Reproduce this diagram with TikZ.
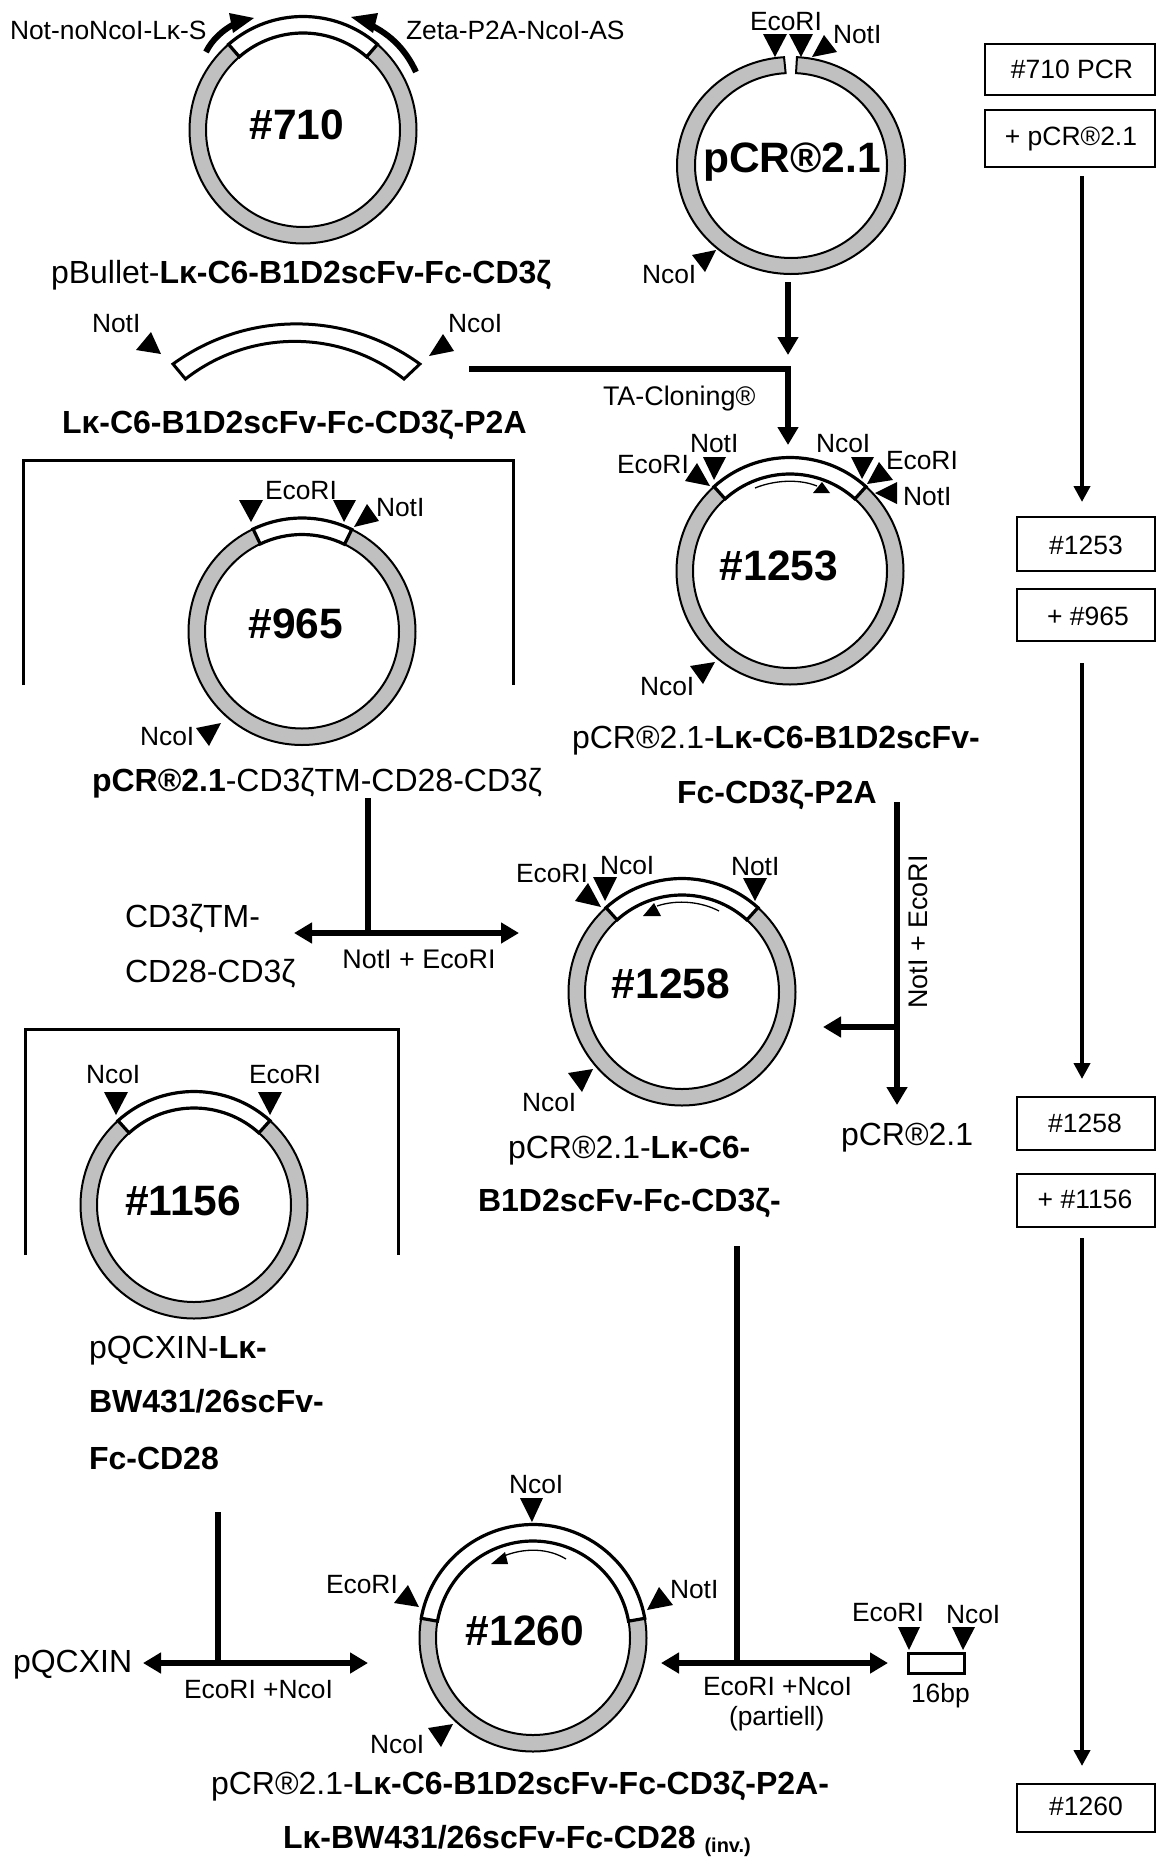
\documentclass[tikz,border=0pt]{standalone}
\usepackage{fontspec}
\setmainfont{Liberation Sans}
\usetikzlibrary{arrows.meta}
\definecolor{ring}{HTML}{C0C0C0}
\newcommand{\szS}{\fontsize{26.4}{30}\selectfont}
\newcommand{\szM}{\fontsize{26.9}{30}\selectfont}
\newcommand{\szBox}{\fontsize{26.5}{30}\selectfont}
\newcommand{\szC}{\fontsize{32}{36}\selectfont}
\newcommand{\szB}{\fontsize{42.5}{46}\selectfont\bfseries}
\tikzset{
  x=1pt,y=1pt,
  txt/.style={inner sep=0pt,outer sep=0pt,anchor=base west},
  ctxt/.style={inner sep=0pt,outer sep=0pt,anchor=base},
  site/.style={font=\szS},
  captxt/.style={font=\szC},
  midtxt/.style={font=\szM},
  bigtxt/.style={font=\szB},
  boxlab/.style={font=\szBox},
  stepbox/.style={draw=black,line width=2pt,fill=white},
  bracket/.style={draw=black,line width=3pt},
  flow/.style={draw=black,line width=5.5pt,-{Triangle[length=18pt,width=20pt]}},
  flowboth/.style={draw=black,line width=5.5pt,{Triangle[length=18pt,width=20pt]}-{Triangle[length=18pt,width=20pt]}},
  flowline/.style={draw=black,line width=5.5pt},
  sidearrow/.style={draw=black,line width=4pt,-{Triangle[length=16pt,width=16pt]}},
  thinarc/.style={draw=black,line width=1.3pt},
  primer/.style={draw=black,line width=6pt},
}
% name, cx, cy, start angle, end angle
\newcommand{\plasmid}[5]{%
  \begin{scope}[shift={(#2,-#3)}]
    \coordinate (#1) at (0,0);
    \draw[black,line width=2pt,fill=ring,even odd rule] (0,0) circle[radius=113.5pt] (0,0) circle[radius=97pt];
    \draw[black,line width=3.2pt,fill=white] (#4:113.5pt) arc[start angle=#4,end angle=#5,radius=113.5pt] -- (#5:97pt) arc[start angle=#5,end angle=#4,radius=97pt] -- cycle;
  \end{scope}}
\newcommand{\tri}[6]{\fill[black] (#1,-#2)--(#3,-#4)--(#5,-#6)--cycle;}
\newcommand{\lab}[5]{\node[txt,#4] (#1) at (#2,-#3) {#5};}
\newcommand{\clab}[5]{\node[ctxt,#4] (#1) at (#2,-#3) {#5};}
\newcommand{\ptc}[3]{\coordinate (#1) at (#2,-#3);}
\begin{document}
\begin{tikzpicture}
\useasboundingbox (0,0) rectangle (1156,-1858);
\fill[white] (0,0) rectangle (1156,-1858);

% ---------- #710
\plasmid{p710}{303}{130}{49}{131}
\clab{l710}{297}{139}{bigtxt}{\#710}
\ptc{a1s}{206}{52}\ptc{a1e}{238}{22}
\ptc{a2s}{416}{72}\ptc{a2e}{364}{22}
\draw[primer] (a1s) .. controls (212,-40) and (222,-30) .. (a1e);
\draw[primer] (a2s) .. controls (405,-48) and (388,-32) .. (a2e);
\tri{229}{13}{254}{18}{233}{33}
\tri{378}{13}{351}{17}{373}{33}
\lab{tNot}{10}{39}{site}{Not-noNcoI-L\symbol{"03BA}-S}
\lab{tZeta}{406}{39}{site}{Zeta-P2A-NcoI-AS}
\lab{c710}{51}{283}{captxt}{pBullet-\textbf{L\symbol{"03BA}-C6-B1D2scFv-Fc-CD3\symbol{"03B6}}}

% ---------- fragment
\draw[black,line width=3pt,fill=white] (173,-364) arc[start angle=126,end angle=54,radius=210pt] -- (404,-379) arc[start angle=52,end angle=128,radius=177.5pt] -- cycle;
\tri{151}{332}{136}{350}{161}{354}
\tri{443}{334}{454}{351}{429}{356}
\lab{fNot}{92}{332}{site}{NotI}
\lab{fNco}{448}{332}{site}{NcoI}
\lab{cFrag}{62}{433}{captxt}{\textbf{L\symbol{"03BA}-C6-B1D2scFv-Fc-CD3\symbol{"03B6}-P2A}}

% ---------- pCR2.1
\begin{scope}[shift={(791,-165.5)}]
  \coordinate (pcr) at (0,0);
  \draw[black,line width=2pt,fill=ring] (87:114pt and 108.5pt) arc[start angle=87,end angle=-266.5,x radius=114pt,y radius=108.5pt]
     -- (93.2:96pt and 92.5pt) arc[start angle=-266.8,end angle=87,x radius=96pt,y radius=92.5pt] -- cycle;
\end{scope}
\clab{lpcr}{792}{172}{font=\fontsize{42.5}{46}\selectfont\bfseries}{pCR®2.1}
\tri{763}{34}{787}{34}{775}{57}
\tri{789}{34}{813}{34}{801}{57}
\tri{824}{35}{837}{52}{812}{57}
\tri{692}{255}{716}{250}{705}{272}
\lab{pE}{750}{30}{site}{EcoRI}
\lab{pN}{833}{43}{site}{NotI}
\lab{pC}{642}{283}{site}{NcoI}

% TA cloning
\ptc{pcrOut}{788}{282}\ptc{into}{788}{355}
\draw[flow] (pcrOut) -- (into);
\ptc{fragOut}{469}{369}\ptc{taBend}{788}{369}\ptc{taIn}{788}{445}
\draw[flow] (fragOut) -- (taBend) -- (taIn);
\lab{tTA}{603}{405}{midtxt}{TA-Cloning®}

% ---------- #965
\draw[bracket] (23,-685) -- (23,-460) -- (513,-460) -- (513,-685);
\plasmid{p965}{302}{631.5}{64}{115.5}
\clab{l965}{296}{638}{bigtxt}{\#965}
\tri{239}{500}{263}{500}{251}{522}
\tri{333}{500}{356}{500}{344}{522}
\tri{367}{504}{379}{521}{354}{527}
\tri{196}{728}{221}{723}{209}{746}
\lab{e965}{265}{499}{site}{EcoRI}
\lab{n965}{376}{516}{site}{NotI}
\lab{c965a}{140}{745}{site}{NcoI}
\lab{c965}{92}{791}{captxt}{\textbf{pCR®2.1}-CD3\symbol{"03B6}TM-CD28-CD3\symbol{"03B6}}

% ---------- #1253
\plasmid{p1253}{790}{571}{48}{132}
\clab{l1253}{779}{580}{bigtxt}{\#1253}
\tri{697}{463}{710}{486}{685}{481}
\tri{703}{457}{726}{457}{714}{480}
\tri{851}{457}{874}{457}{862}{479}
\tri{879}{462}{893}{480}{867}{484}
\tri{897}{482}{897}{504}{875}{493}
\tri{690}{666}{715}{662}{703}{684}
\lab{e1}{617}{473}{site}{EcoRI}
\lab{n1}{690}{452}{site}{NotI}
\lab{c1}{816}{452}{site}{NcoI}
\lab{e2}{886}{469}{site}{EcoRI}
\lab{n2}{903}{505}{site}{NotI}
\lab{c2}{640}{695}{site}{NcoI}
\ptc{t1}{755}{488}\ptc{t2}{817}{486}
\draw[thinarc] (t1) .. controls (772,-481) and (797,-478) .. (t2);
\tri{822}{482}{830}{493}{813}{493}
\lab{c1253a}{572}{748}{captxt}{pCR®2.1-\textbf{L\symbol{"03BA}-C6-B1D2scFv-}}
\lab{c1253b}{677}{803}{captxt}{\textbf{Fc-CD3\symbol{"03B6}-P2A}}

% digest of #1253
\ptc{d1}{897}{802}\ptc{d2}{897}{1027}\ptc{d3}{823}{1027}\ptc{d4}{897}{1030}\ptc{d5}{897}{1105}
\draw[flow] (d1) -- (d2) -- (d3);
\draw[flow] (d4) -- (d5);
\node[inner sep=0pt,rotate=90,anchor=base,midtxt] (tDig) at (927,-932) {NotI + EcoRI};
\lab{tp}{841}{1145}{captxt}{pCR®2.1}

% digest of #965
\ptc{g1}{368}{798}\ptc{g2}{368}{933}\ptc{g3}{294}{933}\ptc{g4}{519}{933}
\draw[flowline] (g1) -- (g2);
\draw[flowboth] (g3) -- (g4);
\clab{tDig2}{419}{968}{midtxt}{NotI + EcoRI}
\lab{z1}{125}{927}{captxt}{CD3\symbol{"03B6}TM-}
\lab{z2}{125}{982}{captxt}{CD28-CD3\symbol{"03B6}}

% ---------- #1258
\plasmid{p1258}{682}{992}{48}{132}
\clab{l1258}{671}{998}{bigtxt}{\#1258}
\tri{588}{883}{601}{907}{575}{901}
\tri{593}{877}{617}{877}{605}{901}
\tri{743}{878}{767}{878}{755}{901}
\tri{568}{1073}{593}{1069}{582}{1092}
\lab{e3}{516}{882}{site}{EcoRI}
\lab{c3}{600}{874}{site}{NcoI}
\lab{n3}{731}{875}{site}{NotI}
\lab{c4}{522}{1111}{site}{NcoI}
\ptc{u1}{719}{911}\ptc{u2}{657}{906}
\draw[thinarc] (u1) .. controls (702,-902) and (678,-899) .. (u2);
\tri{654}{903}{661}{916}{643}{916}
\lab{c1258a}{508}{1158}{captxt}{pCR®2.1-\textbf{L\symbol{"03BA}-C6-}}
\lab{c1258b}{478}{1211}{captxt}{\textbf{B1D2scFv-Fc-CD3\symbol{"03B6}-}}

% ---------- #1156
\draw[bracket] (25,-1255) -- (25,-1029) -- (398,-1029) -- (398,-1255);
\plasmid{p1156}{194}{1205}{48}{132}
\clab{l1156}{183}{1215}{bigtxt}{\#1156}
\tri{104}{1092}{128}{1092}{116}{1115}
\tri{258}{1092}{282}{1092}{270}{1115}
\lab{c5}{86}{1083}{site}{NcoI}
\lab{e5}{249}{1083}{site}{EcoRI}
\lab{c1156a}{89}{1358}{captxt}{pQCXIN-\textbf{L\symbol{"03BA}-}}
\lab{c1156b}{89}{1412}{captxt}{\textbf{BW431/26scFv-}}
\lab{c1156c}{89}{1469}{captxt}{\textbf{Fc-CD28}}

% digest of #1156
\ptc{h1}{218}{1512}\ptc{h2}{218}{1663}\ptc{h3}{143}{1663}\ptc{h4}{368}{1663}
\draw[flowline] (h1) -- (h2);
\draw[flowboth] (h3) -- (h4);
\lab{tq}{13}{1672}{captxt}{pQCXIN}
\lab{th}{184}{1698}{site}{EcoRI +NcoI}

% ---------- #1260
\plasmid{p1260}{533}{1638}{10}{170}
\clab{l1260}{525}{1645}{bigtxt}{\#1260}
\tri{520}{1498}{543}{1498}{532}{1522}
\tri{408}{1585}{419}{1607}{394}{1603}
\tri{659}{1587}{673}{1605}{647}{1610}
\tri{428}{1728}{453}{1724}{441}{1747}
\lab{c6}{509}{1493}{site}{NcoI}
\lab{e6}{326}{1593}{site}{EcoRI}
\lab{n6}{670}{1598}{site}{NotI}
\lab{c7}{370}{1753}{site}{NcoI}
\ptc{v1}{566}{1559}\ptc{v2}{499}{1558}
\draw[thinarc] (v1) .. controls (550,-1549) and (525,-1546) .. (v2);
\tri{505}{1552}{508}{1564}{491}{1564}
\lab{c1260a}{211}{1794}{captxt}{pCR®2.1-\textbf{L\symbol{"03BA}-C6-B1D2scFv-Fc-CD3\symbol{"03B6}-P2A-}}
\lab{c1260b}{283}{1848}{captxt}{\textbf{L\symbol{"03BA}-BW431/26scFv-Fc-CD28 {\fontsize{20}{24}\selectfont\raisebox{-4pt}{(inv.)}}}}

% digest of #1258
\ptc{k1}{737}{1246}\ptc{k2}{737}{1663}\ptc{k3}{661}{1663}\ptc{k4}{888}{1663}
\draw[flowline] (k1) -- (k2);
\draw[flowboth] (k3) -- (k4);
\lab{tk1}{703}{1695}{site}{EcoRI +NcoI}
\lab{tk2}{729}{1725}{site}{(partiell)}
\draw[black,line width=3pt,fill=white] (908,-1653) rectangle (964,-1673);
\coordinate (r16) at (936,-1663);
\tri{898}{1627}{920}{1627}{909}{1650}
\tri{952}{1627}{975}{1627}{963}{1650}
\lab{e8}{852}{1621}{site}{EcoRI}
\lab{c8}{946}{1623}{site}{NcoI}
\lab{t16}{911}{1702}{site}{16bp}

% ---------- right column
\draw[stepbox] (985,-44) rectangle (1155,-95);
\draw[stepbox] (985,-110) rectangle (1155,-167);
\clab{b1}{1072}{78}{boxlab}{\#710 PCR}
\clab{b2}{1071}{145}{boxlab}{+ pCR®2.1}
\draw[stepbox] (1017,-517) rectangle (1155,-571);
\draw[stepbox] (1017,-589) rectangle (1155,-641);
\clab{b3}{1086}{554}{boxlab}{\#1253}
\clab{b4}{1088}{625}{boxlab}{+ \#965}
\draw[stepbox] (1017,-1097) rectangle (1155,-1150);
\draw[stepbox] (1017,-1174) rectangle (1155,-1227);
\clab{b5}{1085}{1132}{boxlab}{\#1258}
\clab{b6}{1085}{1208}{boxlab}{+ \#1156}
\draw[stepbox] (1017,-1784) rectangle (1155,-1832);
\clab{b7}{1086}{1815}{boxlab}{\#1260}
\ptc{s1}{1082}{176}\ptc{s2}{1082}{502}
\ptc{s3}{1082}{663}\ptc{s4}{1082}{1079}
\ptc{s5}{1082}{1238}\ptc{s6}{1082}{1766}
\draw[sidearrow] (s1) -- (s2);
\draw[sidearrow] (s3) -- (s4);
\draw[sidearrow] (s5) -- (s6);
\end{tikzpicture}
\end{document}
